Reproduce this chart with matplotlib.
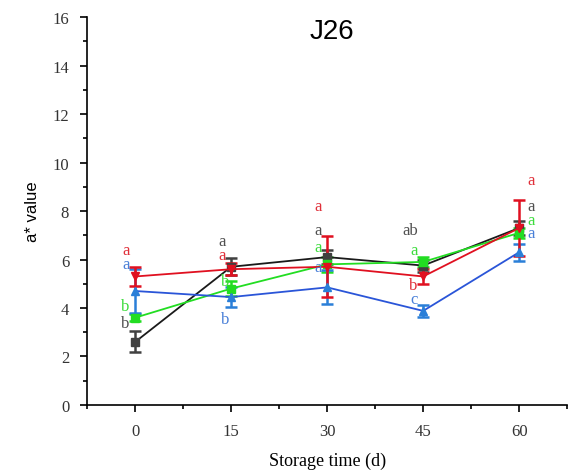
import matplotlib
matplotlib.use('Agg')
import matplotlib.pyplot as plt
from matplotlib.ticker import MultipleLocator

days = [0, 15, 30, 45, 60]

# a* means and standard deviations per group
black_y = [2.6, 5.7, 6.1, 5.75, 7.3]
black_err = [0.43, 0.35, 0.3, 0.25, 0.3]
red_y = [5.3, 5.6, 5.7, 5.3, 7.3]
red_err = [0.4, 0.25, 1.25, 0.3, 1.15]
green_y = [3.6, 4.8, 5.8, 5.9, 7.1]
green_err = [0.15, 0.3, 0.3, 0.2, 0.2]
blue_y = [4.7, 4.45, 4.85, 3.88, 6.3]
blue_err = [0.9, 0.4, 0.7, 0.25, 0.35]

# significance letters for each group
black_lab = ['b', 'a', 'a', 'ab', 'a']
red_lab = ['a', 'a', 'a', 'b', 'a']
green_lab = ['b', 'b', 'a', 'a', 'a']
blue_lab = ['a', 'b', 'a', 'c', 'a']

fig = plt.figure(figsize=(5.7, 4.77), dpi=100)
ax = fig.add_axes([0.153, 0.149, 0.842, 0.813])

series = [
    (black_y, black_err, '#1a1a1a', '#404040', 's'),
    (green_y, green_err, '#22dd22', '#22dd22', 's'),
    (blue_y, blue_err, '#2a55d8', '#2a7fd8', '^'),
    (red_y, red_err, '#e01020', '#e01020', 'v'),
]
for y, e, lc, mc, m in series:
    ax.errorbar(days, y, yerr=e, color=lc, ecolor=mc, mfc=mc, mec=mc,
                marker=m, ms=6, lw=1.3, elinewidth=1.8, capsize=4, capthick=1.8)

# letter positions above/below the points
black_ly = [3.4, 6.75, 7.2, 7.2, 8.2]
red_ly = [6.4, 6.2, 8.2, 4.95, 9.3]
green_ly = [4.1, 5.1, 6.5, 6.4, 7.65]
blue_ly = [5.8, 3.55, 5.7, 4.35, 7.1]
label_sets = [
    (black_lab, black_ly, '#505050', [-1.5, -1.5, -1.5, -2.0, 1.8]),
    (red_lab, red_ly, '#e0303a', [-1.5, -1.5, -1.5, -1.5, 1.8]),
    (green_lab, green_ly, '#3ddc3d', [-1.5, -1.0, -1.5, -1.5, 1.8]),
    (blue_lab, blue_ly, '#4a80d8', [-1.5, -0.9, -1.5, -1.5, 1.8]),
]
for labs, ly, c, dx in label_sets:
    for x, t, yy, d in zip(days, labs, ly, dx):
        ax.text(x + d, yy, t, color=c, fontsize=12, family='Liberation Serif',
                ha='center', va='center')

ax.set_xlim(-7.5, 67.5)
ax.set_ylim(0, 16)
ax.set_xticks(days)
ax.xaxis.set_minor_locator(MultipleLocator(7.5))
ax.yaxis.set_major_locator(MultipleLocator(2))
ax.yaxis.set_minor_locator(MultipleLocator(1))
ax.spines['top'].set_visible(False)
ax.spines['right'].set_visible(False)
for s in ['left', 'bottom']:
    ax.spines[s].set_linewidth(1.2)
ax.tick_params(which='major', direction='out', length=5, width=1.2, pad=8)
ax.tick_params(which='minor', direction='out', length=3, width=1.2)
for lbl in ax.get_xticklabels() + ax.get_yticklabels():
    lbl.set_family('Liberation Serif')
    lbl.set_fontsize(12)
    lbl.set_color('#333333')

ax.set_xlabel('Storage time (d)', family='Liberation Serif', fontsize=13, labelpad=9)
ax.set_ylabel('a* value', family='Liberation Sans', fontsize=12, labelpad=9)
ax.text(0.51, 0.965, 'J26', transform=ax.transAxes, ha='center', va='center',
        family='Liberation Sans', fontsize=20)

fig.savefig('out.png', dpi=100)
